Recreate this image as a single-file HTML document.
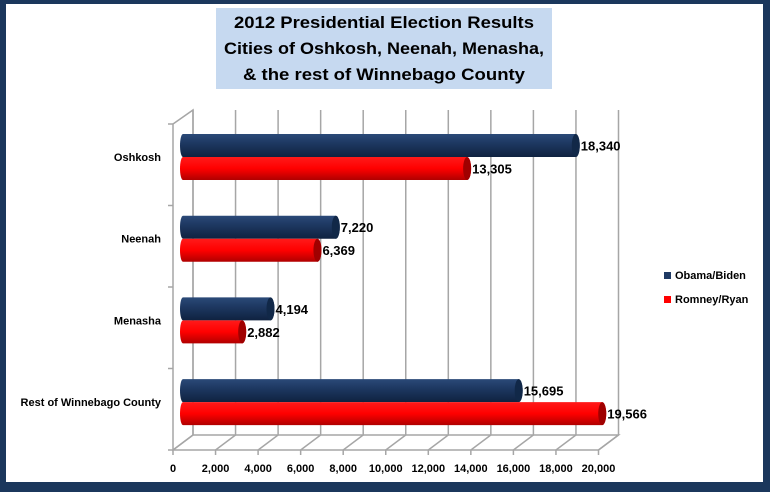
<!DOCTYPE html>
<html><head><meta charset="utf-8"><style>
html,body{margin:0;padding:0;background:#1b375c;}
svg{display:block;font-family:"Liberation Sans",sans-serif;}
</style></head><body>
<svg width="770" height="492" viewBox="0 0 770 492">
<defs>
<linearGradient id="gb" x1="0" y1="0" x2="0" y2="1"><stop offset="0" stop-color="#2b4a78"/><stop offset="0.35" stop-color="#1f3a64"/><stop offset="1" stop-color="#0f2240"/></linearGradient>
<linearGradient id="gr" x1="0" y1="0" x2="0" y2="1"><stop offset="0" stop-color="#ff1a1a"/><stop offset="0.5" stop-color="#ff0000"/><stop offset="1" stop-color="#b00000"/></linearGradient>
</defs>
<rect x="6" y="4" width="757" height="478" fill="#fff"/>
<rect x="216" y="8" width="336" height="81" fill="#c6d9f0"/>
<g font-weight="bold" font-size="17" text-anchor="middle" fill="#000">
<text x="384" y="28" textLength="300" lengthAdjust="spacingAndGlyphs">2012 Presidential  Election  Results</text>
<text x="384" y="54" textLength="320" lengthAdjust="spacingAndGlyphs">Cities of Oshkosh,  Neenah, Menasha,</text>
<text x="384" y="80" textLength="282" lengthAdjust="spacingAndGlyphs">&amp; the rest of Winnebago  County</text>
</g>
<g id="grid"></g>
<g id="bars"></g>
<g id="labels"></g>
<g>
<rect x="664" y="272" width="7" height="7" fill="#1f3a64"/>
<text x="675" y="279" font-size="11" font-weight="bold">Obama/Biden</text>
<rect x="664" y="296" width="7" height="7" fill="#ff0000"/>
<text x="675" y="303" font-size="11" font-weight="bold">Romney/Ryan</text>
</g>
</svg>
<script>
const categories=["Oshkosh","Neenah","Menasha","Rest of Winnebago County"];
const obama=[18340,7220,4194,15695];
const romney=[13305,6369,2882,19566];
const ticks=[0,2000,4000,6000,8000,10000,12000,14000,16000,18000,20000];
const tickLabels=["0","2,000","4,000","6,000","8,000","10,000","12,000","14,000","16,000","18,000","20,000"];
const NS="http://www.w3.org/2000/svg";
function mk(t,a,p){const e=document.createElementNS(NS,t);for(const k in a)e.setAttribute(k,a[k]);p.appendChild(e);return e;}
const frontX=v=>173+v/20000*425.5;
const backX=v=>193+v/20000*425.5;
const barX=v=>180+v*0.02158;
const catY=i=>157+i*81.7;
const grid=document.getElementById('grid');
// walls
let l=mk('path',{d:"M173 124 L193 110 L193 435 L173 450 Z M173 450 L598.5 450 L618.5 435 L193 435",fill:"none",stroke:"#a6a6a6","stroke-width":"1.5"},grid);

ticks.forEach((t,i)=>{
 const g=mk('path',{d:`M${backX(t)} 110 L${backX(t)} 435 L${frontX(t)} 450 L${frontX(t)} 455`,fill:"none",stroke:"#a6a6a6","stroke-width":"1.5"},grid);
 
 const tx=mk('text',{x:frontX(t),y:472,"font-size":"11","font-weight":"bold","text-anchor":"middle"},grid);
 tx.textContent=tickLabels[i];
 
});
for(let i=0;i<=categories.length;i++){
 const y=124+i*81.5;
 const tk=mk('line',{x1:168,y1:y,x2:173,y2:y,stroke:"#a6a6a6","stroke-width":"1.5"},grid);
 
}
const bars=document.getElementById('bars'),labels=document.getElementById('labels');
function bar(v,y,fill,cap,name){
 const x0=180,x1=barX(v),h=23;
 const p=mk('path',{d:`M${x0+3} ${y} L${x1} ${y} A4 ${h/2} 0 0 1 ${x1} ${y+h} L${x0+3} ${y+h} A3 ${h/2} 0 0 1 ${x0+3} ${y} Z`,fill:fill},bars);
 
 const c=mk('ellipse',{cx:x1,cy:y+h/2,rx:4,ry:h/2,fill:cap},bars);
 
 const t=mk('text',{x:x1+5,y:y+h/2+5,"font-size":"13","font-weight":"bold"},labels);
 t.textContent=v.toLocaleString('en-US');
 
}
categories.forEach((c,i)=>{
 const y=catY(i);
 bar(obama[i],y-23,"url(#gb)","#112848",'bar-obama');
 bar(romney[i],y,"url(#gr)","#a00000",'bar-romney');
 const t=mk('text',{x:161,y:y+4,"font-size":"11","font-weight":"bold","text-anchor":"end"},labels);
 t.textContent=c;
 
});
</script>
</body></html>
